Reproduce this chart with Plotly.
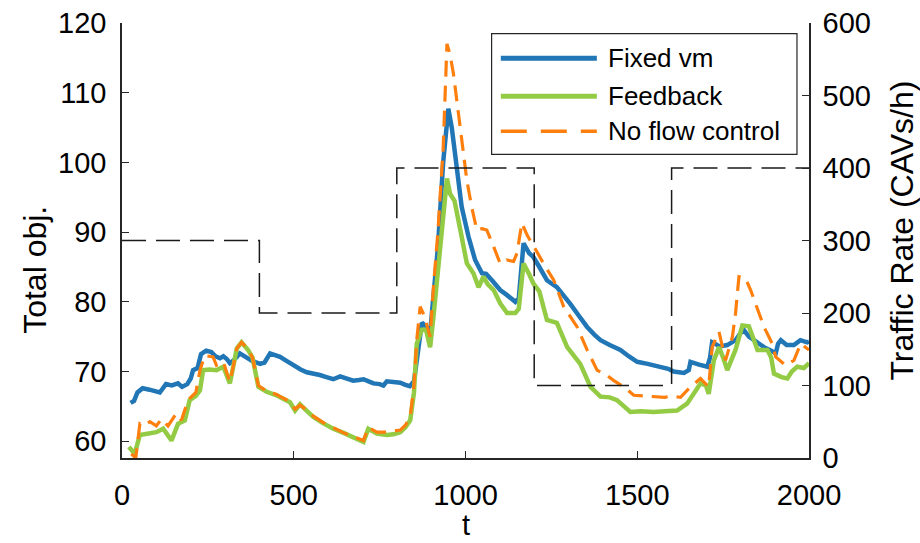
import plotly.graph_objects as go

# Total objective over time, three control strategies
t_fixed = [25, 35, 45, 60, 80, 100, 110, 128, 145, 163, 175, 190, 200, 207, 220, 230, 245, 260, 272, 285,
           295, 305, 314, 325, 343, 363, 380, 402, 415, 431, 445, 460, 480, 499, 520, 538, 560, 576, 595, 615,
           635, 655, 673, 690, 703, 718, 732, 750, 761, 771, 790, 810, 825, 838, 850, 860, 873, 885, 897, 906,
           920, 935, 950, 960, 970, 989, 1009, 1028, 1048, 1060, 1077, 1101, 1120, 1145, 1155, 1169, 1185, 1198,
           1215, 1237, 1266, 1285, 1305, 1330, 1354, 1375, 1393, 1420, 1451, 1475, 1500, 1530, 1568, 1590, 1606,
           1636, 1650, 1655, 1680, 1704, 1712, 1718, 1740, 1762, 1786, 1800, 1811, 1825, 1840, 1855, 1869, 1890,
           1903, 1910, 1918, 1935, 1956, 1975, 1995, 2000]
fixed_vm = [65.5, 65.8, 67.0, 67.6, 67.4, 67.2, 67.0, 68.2, 68.0, 68.3, 67.8, 68.2, 69.0, 70.2, 70.5, 72.5, 73.0,
            72.8, 72.2, 71.9, 72.2, 71.8, 71.2, 71.6, 72.6, 72.0, 71.5, 71.1, 71.3, 72.6, 72.4, 72.1, 71.5, 70.9,
            70.3, 69.9, 69.7, 69.5, 69.2, 68.9, 69.3, 68.9, 68.7, 68.8, 68.9, 68.6, 68.3, 68.2, 68.0, 68.6, 68.5,
            68.4, 68.1, 67.9, 68.6, 72.5, 77.0, 76.5, 75.5, 80.5, 88.0, 100.0, 107.7, 105.0, 100.8, 93.6, 89.3,
            86.0, 84.1, 84.0, 83.1, 81.7, 81.0, 80.0, 80.5, 88.4, 87.0, 86.4, 85.0, 83.1, 82.1, 81.0, 79.7, 78.0,
            76.4, 75.3, 74.5, 73.8, 73.1, 72.2, 71.4, 71.1, 70.7, 70.4, 70.0, 69.8, 70.2, 71.4, 71.0, 70.7, 72.0,
            74.2, 73.6, 73.8, 74.5, 75.5, 75.9, 75.0, 74.5, 74.0, 73.5, 73.0, 72.6, 74.0, 74.5, 73.8, 73.8, 74.5,
            74.2, 74.3]

t_feedback = [20, 37, 52, 65, 81, 100, 120, 132, 144, 163, 183, 197, 215, 227, 236, 255, 275, 295, 305, 314,
              325, 334, 348, 367, 380, 397, 421, 450, 469, 489, 504, 518, 535, 557, 585, 615, 645, 673, 690, 703,
              717, 742, 771, 790, 810, 825, 839, 850, 858, 873, 885, 897, 906, 920, 935, 946, 955, 968, 985, 1004,
              1023, 1038, 1052, 1065, 1082, 1101, 1121, 1145, 1155, 1169, 1185, 1198, 1215, 1237, 1266, 1296, 1334,
              1364, 1393, 1420, 1441, 1460, 1480, 1510, 1548, 1580, 1600, 1616, 1645, 1665, 1684, 1700, 1708, 1723,
              1738, 1750, 1762, 1786, 1806, 1825, 1850, 1879, 1890, 1898, 1920, 1937, 1950, 1966, 1985, 2000]
feedback = [59.2, 58.2, 60.9, 61.0, 61.1, 61.3, 61.8, 61.0, 60.1, 62.5, 63.0, 65.9, 66.5, 67.3, 70.2, 70.3, 70.2,
            70.7, 69.5, 68.3, 71.0, 73.3, 74.2, 73.1, 72.0, 67.8, 67.1, 66.6, 66.1, 65.6, 64.4, 65.3, 64.5, 63.5,
            62.6, 61.8, 61.2, 60.6, 60.2, 59.9, 61.8, 61.1, 60.9, 61.0, 61.3, 62.0, 63.0, 67.0, 74.0, 76.0, 76.0,
            73.5, 77.5, 85.0, 93.0, 97.7, 95.5, 94.5, 90.3, 85.5, 84.1, 82.1, 83.6, 82.5, 81.7, 79.8, 78.4, 78.4,
            79.0, 85.5, 84.0, 82.6, 81.5, 77.4, 77.0, 73.5, 71.1, 67.8, 66.4, 66.3, 65.9, 65.0, 64.2, 64.3, 64.2,
            64.3, 64.4, 64.4, 65.4, 67.0, 68.3, 68.0, 66.8, 71.6, 73.5, 72.0, 70.2, 73.1, 76.6, 76.5, 73.1, 73.1,
            72.0, 69.7, 69.2, 69.0, 70.0, 70.7, 70.5, 71.2]

t_noflow = [27, 40, 52, 62, 81, 100, 115, 134, 158, 173, 192, 215, 227, 241, 265, 275, 295, 305, 314, 325, 334,
            348, 367, 380, 397, 421, 450, 469, 489, 504, 518, 535, 557, 585, 615, 645, 673, 690, 703, 717, 742,
            771, 790, 810, 825, 839, 850, 858, 868, 880, 897, 906, 920, 935, 946, 955, 965, 985, 1004, 1018, 1033,
            1048, 1062, 1082, 1101, 1120, 1140, 1150, 1164, 1180, 1194, 1210, 1227, 1257, 1286, 1325, 1354, 1383,
            1410, 1432, 1461, 1490, 1520, 1548, 1580, 1600, 1626, 1655, 1684, 1708, 1718, 1738, 1757, 1777, 1786,
            1796, 1815, 1830, 1850, 1869, 1893, 1903, 1932, 1956, 1976, 2000]
no_flow = [58.2, 57.6, 62.5, 62.2, 62.8, 62.2, 63.2, 62.2, 64.0, 63.0, 65.9, 67.0, 70.2, 72.3, 72.1, 70.9, 71.4,
           70.0, 68.5, 71.0, 73.3, 74.2, 73.2, 72.0, 68.0, 67.2, 66.7, 66.2, 65.7, 64.6, 65.2, 64.6, 63.6, 62.7,
           61.9, 61.2, 60.7, 60.3, 60.1, 62.0, 61.3, 61.3, 61.4, 61.6, 62.3, 63.5, 68.0, 74.5, 79.3, 78.0, 75.0,
           81.7, 90.3, 102.0, 117.0, 115.5, 112.7, 104.6, 97.4, 93.6, 90.3, 90.5, 90.3, 87.9, 85.5, 86.0, 85.8,
           87.0, 91.3, 89.5, 88.4, 87.0, 85.5, 83.1, 79.3, 76.4, 73.1, 70.2, 69.5, 68.7, 67.8, 66.6, 66.5, 66.4,
           66.3, 66.5, 66.3, 67.8, 69.0, 67.8, 73.5, 75.7, 71.6, 75.0, 78.3, 83.6, 83.4, 81.7, 78.8, 76.4, 74.0,
           72.1, 70.9, 71.6, 74.0, 73.1]

# Piecewise-constant traffic arrival rate (right axis)
t_rate = [0, 400, 800, 1200, 1600, 2000]
traffic_rate = [300, 200, 400, 100, 400, 400]

series_names = ["Fixed vm", "Feedback", "No flow control"]
x_label = "t"
y_label = "Total obj."
y2_label = "Traffic Rate (CAVs/h)"

BLUE = "#2176b6"
GREEN = "#93cb44"
ORANGE = "#ff7f0e"
INK = "#262626"
FONT = "Liberation Sans, Arial, sans-serif"
TICK_SIZE = 29
LABEL_SIZE = 32
LEGEND_SIZE = 26

fig = go.Figure()

fig.add_trace(go.Scatter(x=t_rate, y=traffic_rate, yaxis="y2", mode="lines",
                         line=dict(color="#1a1a1a", width=1.5, dash="24px,10px", shape="hv"),
                         showlegend=False, hoverinfo="skip"))
fig.add_trace(go.Scatter(x=t_fixed, y=fixed_vm, mode="lines", name=series_names[0],
                         line=dict(color=BLUE, width=4.5), showlegend=False))
fig.add_trace(go.Scatter(x=t_feedback, y=feedback, mode="lines", name=series_names[1],
                         line=dict(color=GREEN, width=4.5), showlegend=False))
fig.add_trace(go.Scatter(x=t_noflow, y=no_flow, mode="lines", name=series_names[2],
                         line=dict(color=ORANGE, width=3.2, dash="16px,9px"), showlegend=False))

# Hand-drawn legend box with long line samples
leg_x0, leg_x1, leg_y0, leg_y1 = 0.538, 0.9825, 0.698, 0.9756
sample_x0, sample_x1, text_x = 0.5514, 0.6912, 0.7044
row_y = [0.9189, 0.8315, 0.7510]
shapes = [dict(type="rect", xref="paper", yref="paper", x0=leg_x0, x1=leg_x1, y0=leg_y0, y1=leg_y1,
               line=dict(color=INK, width=1.2), fillcolor="white", layer="above")]
styles = [dict(color=BLUE, width=5), dict(color=GREEN, width=5), dict(color=ORANGE, width=3.5, dash="26px,14px")]
annotations = []
for name, yy, st in zip(series_names, row_y, styles):
    shapes.append(dict(type="line", xref="paper", yref="paper", x0=sample_x0, x1=sample_x1, y0=yy, y1=yy,
                       line=st, layer="above"))
    annotations.append(dict(xref="paper", yref="paper", x=text_x, y=yy, text=name, showarrow=False,
                            xanchor="left", yanchor="middle",
                            font=dict(family=FONT, size=LEGEND_SIZE, color="black")))

# Axis titles placed as free text
title_font = dict(family=FONT, size=LABEL_SIZE, color="black")
annotations += [
    dict(xref="paper", yref="paper", x=0.5, y=-0.1945, text=x_label, showarrow=False,
         xanchor="center", yanchor="bottom", font=dict(family=FONT, size=29, color="black")),
    dict(xref="paper", yref="paper", x=-0.127, y=0.432, text=y_label, showarrow=False, textangle=-90,
         xanchor="center", yanchor="middle", font=title_font),
    dict(xref="paper", yref="paper", x=1.1355, y=0.523, text=y2_label, showarrow=False, textangle=-90,
         xanchor="center", yanchor="middle", font=title_font),
]

axis_common = dict(showline=True, linecolor=INK, linewidth=1.5, ticks="inside", ticklen=7, tickwidth=1.2,
                   tickcolor=INK, showgrid=False, zeroline=False, automargin=False,
                   tickfont=dict(family=FONT, size=TICK_SIZE, color="black"))

fig.update_layout(
    width=920, height=543,
    margin=dict(l=122, r=111, t=23, b=85),
    paper_bgcolor="white", plot_bgcolor="white",
    shapes=shapes, annotations=annotations,
    xaxis=dict(range=[0, 2000], tickvals=[0, 500, 1000, 1500, 2000], ticklabelstandoff=10, **axis_common),
    yaxis=dict(range=[57.6, 120], tickvals=[60, 70, 80, 90, 100, 110, 120], ticklabelstandoff=8,
               **axis_common),
    yaxis2=dict(range=[0, 600], tickvals=[0, 100, 200, 300, 400, 500, 600], overlaying="y", side="right",
                ticklabelstandoff=6, **axis_common),
)

fig.write_html("out.html")
